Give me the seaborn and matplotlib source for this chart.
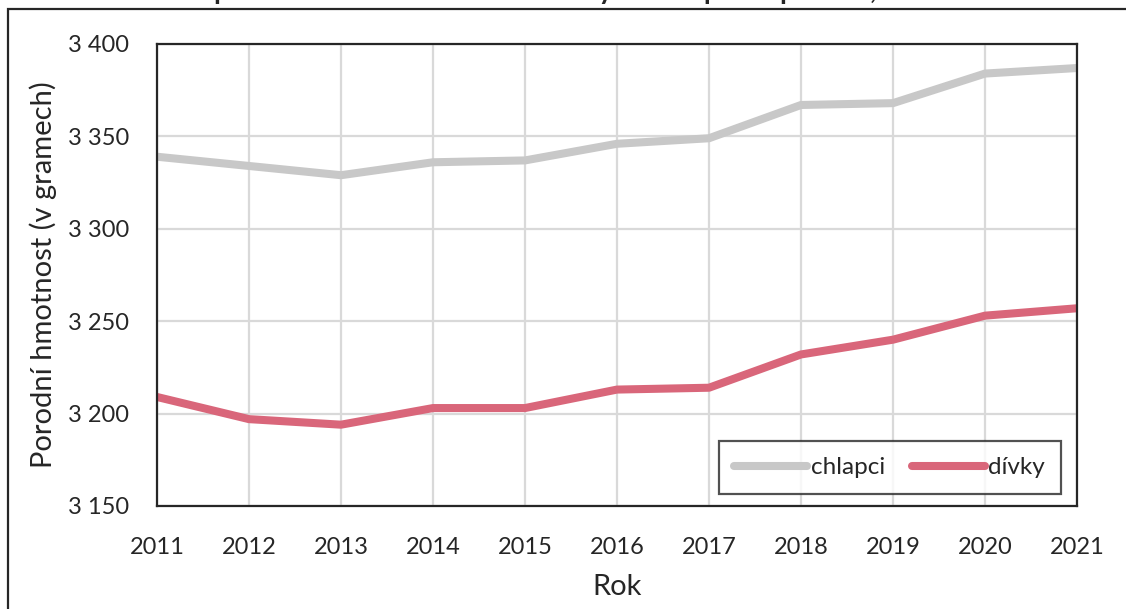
import numpy as np
import pandas as pd
import matplotlib
matplotlib.use("Agg")
import matplotlib.pyplot as plt
from matplotlib.patches import Rectangle
from matplotlib.ticker import FuncFormatter, MultipleLocator
import seaborn as sns

# Data
years = list(range(2011, 2022))
chlapci = [3339, 3334, 3329, 3336, 3337, 3346, 3349, 3367, 3368, 3384, 3387]
divky = [3209, 3197, 3194, 3203, 3203, 3213, 3214, 3232, 3240, 3253, 3257]
series_names = ["chlapci", "dívky"]
colors = ["#c8c8c8", "#d9667a"]

df = pd.DataFrame({
    "Rok": years * 2,
    "hmotnost": chlapci + divky,
    "pohlaví": [series_names[0]] * len(years) + [series_names[1]] * len(years),
})

sns.set_theme(style="white")
plt.rcParams["font.family"] = ["Lato", "DejaVu Sans"]
plt.rcParams["text.color"] = "#262626"

fig = plt.figure(figsize=(11.26, 6.09), dpi=100)
ax = fig.add_axes([157 / 1126, 1 - 506 / 609, (1077 - 157) / 1126, (506 - 44) / 609])

sns.lineplot(data=df, x="Rok", y="hmotnost", hue="pohlaví",
             palette=dict(zip(series_names, colors)), linewidth=5.8,
             ax=ax, legend=False)
for line in ax.lines:
    line.set_solid_capstyle("butt")
    line.set_solid_joinstyle("round")

ax.set_xlim(2011, 2021)
ax.set_ylim(3150, 3400)
ax.xaxis.set_major_locator(MultipleLocator(1))
ax.yaxis.set_major_locator(MultipleLocator(50))
ax.yaxis.set_major_formatter(FuncFormatter(lambda v, p: f"{int(v):,}".replace(",", " ")))
ax.grid(True, color="#d9d9d9", linewidth=1.6)
ax.set_axisbelow(True)
for s in ax.spines.values():
    s.set_color("#262626")
    s.set_linewidth(1.6)
ax.tick_params(axis="both", length=0, labelsize=17, colors="#262626")
ax.tick_params(axis="y", pad=20)
ax.tick_params(axis="x", pad=22)

ax.set_xlabel("Rok", fontsize=21, color="#262626", labelpad=12)
ax.set_ylabel("Porodní hmotnost (v gramech)", fontsize=21, color="#262626", labelpad=8)

handles = [plt.Line2D([], [], color=c, linewidth=5.8, solid_capstyle="round") for c in colors]
leg = ax.legend(handles, series_names, ncol=2, loc="lower right",
                bbox_to_anchor=(0.9826, 0.026), fontsize=17.5, frameon=True,
                fancybox=False, handlelength=3.0, handletextpad=0.15,
                columnspacing=1.1, borderpad=0.65, borderaxespad=0)
leg.get_frame().set_edgecolor("#262626")
leg.get_frame().set_linewidth(1.6)

# outer chart frame, cropped on the right and bottom
fig.patches.append(Rectangle((8 / 1126, -0.1), 1.2, 1.1 - 9 / 609,
                             transform=fig.transFigure, fill=False,
                             edgecolor="#262626", linewidth=1.6))

# title, mostly cut off at the top edge
fig.text(0.495, 1 + 1.5 / 609, "Průměrná porodní hmotnost živě narozených dětí podle pohlaví, 2011–2021",
         ha="center", va="baseline", fontsize=20, fontweight="bold", color="#262626")

fig.savefig("out.png", dpi=100)
